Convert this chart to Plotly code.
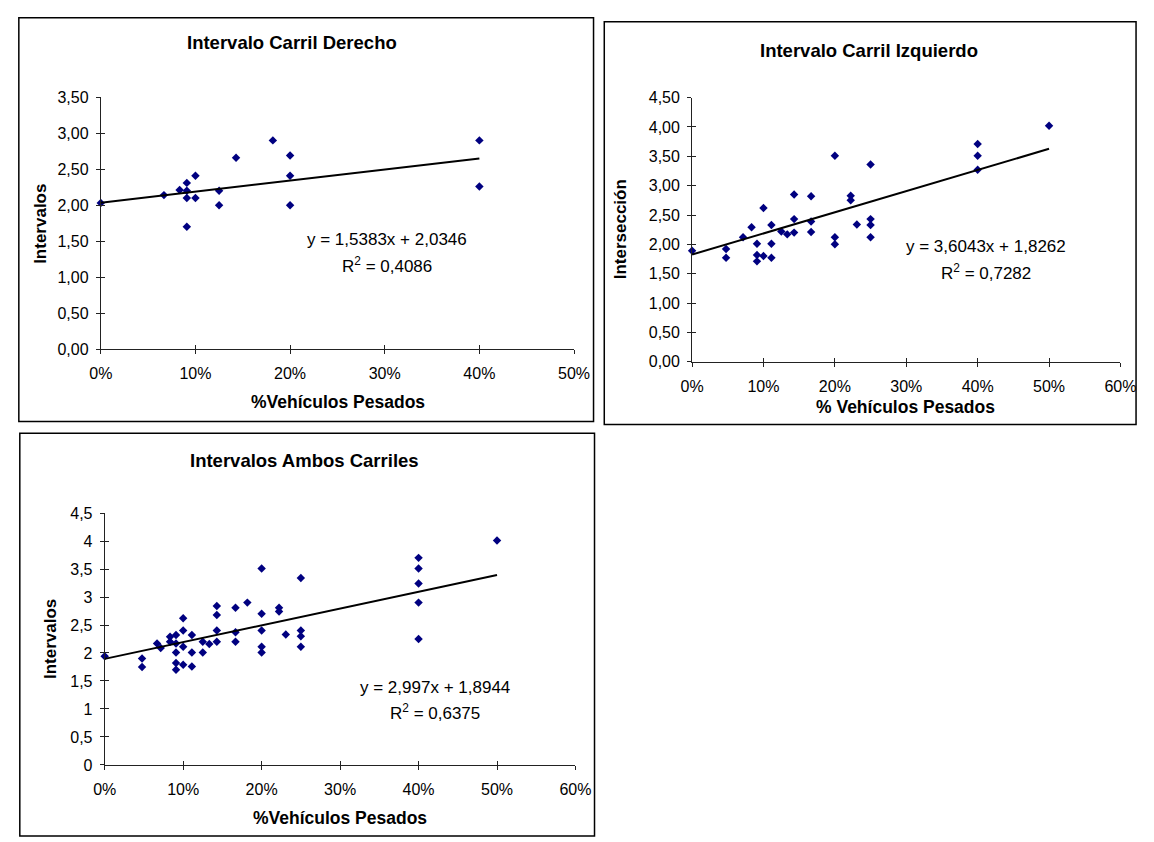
import plotly.graph_objects as go

W, H = 1154, 842

# ---------------- data ----------------
titles = ["Intervalo Carril Derecho", "Intervalo Carril Izquierdo", "Intervalos Ambos Carriles"]
x_titles = ["%Vehículos Pesados", "% Vehículos Pesados", "%Vehículos Pesados"]
y_titles = ["Intervalos", "Intersección", "Intervalos"]

x1 = [0, 0.0667, 0.0833, 0.0909, 0.0909, 0.0909, 0.0909, 0.10, 0.10, 0.125, 0.125,
      0.1429, 0.1818, 0.20, 0.20, 0.20, 0.40, 0.40]
y1 = [2.03, 2.14, 2.21, 2.31, 2.20, 2.10, 1.70, 2.41, 2.10, 2.20, 2.00,
      2.66, 2.90, 2.69, 2.41, 2.00, 2.90, 2.26]

x2 = [0, 0.0476, 0.0476, 0.0714, 0.0833, 0.0909, 0.0909, 0.0909, 0.10, 0.10,
      0.1111, 0.1111, 0.1111, 0.125, 0.1333, 0.1429, 0.1429, 0.1429, 0.1667, 0.1667,
      0.1667, 0.20, 0.20, 0.20, 0.2222, 0.2222, 0.2308, 0.25, 0.25, 0.25, 0.25,
      0.40, 0.40, 0.40, 0.50]
y2 = [1.89, 1.92, 1.77, 2.12, 2.29, 2.01, 1.82, 1.71, 2.62, 1.80,
      2.33, 2.01, 1.77, 2.22, 2.17, 2.85, 2.43, 2.20, 2.82, 2.39,
      2.21, 3.51, 2.12, 2.00, 2.83, 2.75, 2.34, 3.36, 2.43, 2.33, 2.12,
      3.71, 3.51, 3.27, 4.02]

x3 = [0, 0.0476, 0.0476, 0.0667, 0.0714, 0.0833, 0.0833, 0.0909, 0.0909, 0.0909,
      0.0909, 0.0909, 0.10, 0.10, 0.10, 0.10, 0.1111, 0.1111, 0.1111, 0.125, 0.125,
      0.1333, 0.1429, 0.1429, 0.1429, 0.1429, 0.1667, 0.1667, 0.1667, 0.1818,
      0.20, 0.20, 0.20, 0.20, 0.20, 0.2222, 0.2222, 0.2308, 0.25, 0.25, 0.25, 0.25,
      0.40, 0.40, 0.40, 0.40, 0.40, 0.50]
y3 = [1.94, 1.90, 1.75, 2.17, 2.09, 2.29, 2.20, 2.32, 2.17, 2.01,
      1.82, 1.70, 2.62, 2.40, 2.11, 1.79, 2.32, 2.01, 1.76, 2.20, 2.01,
      2.16, 2.84, 2.68, 2.40, 2.20, 2.81, 2.37, 2.20, 2.90,
      3.51, 2.70, 2.40, 2.11, 2.01, 2.81, 2.74, 2.33, 3.34, 2.40, 2.30, 2.11,
      3.70, 3.51, 3.24, 2.90, 2.25, 4.01]

slopes = [1.5383, 3.6043, 2.997]
intercepts = [2.0346, 1.8262, 1.8944]
eq_texts = ["y = 1,5383x + 2,0346", "y = 3,6043x + 1,8262", "y = 2,997x + 1,8944"]
r2_texts = ["R<sup>2</sup> = 0,4086", "R<sup>2</sup> = 0,7282", "R<sup>2</sup> = 0,6375"]

x_ranges = [[0, 0.5], [0, 0.6], [0, 0.6]]
y_ranges = [[0, 3.5], [0, 4.5], [0, 4.5]]
y_formats = [".2f", ".2f", ""]

# ---------------- layout geometry (pixels) ----------------
plot_px = [  # x0, x1, ytop, ybottom
    (91, 576, 91, 348.3),
    (697, 1136, 91.5, 361),
    (95, 577.5, 515.5, 772.5),
]
frames_px = [(7, 10, 596, 422), (607, 14, 1152, 425), (8, 434, 597, 845)]
title_px = [(287, 35), (878, 43), (300, 462)]
eq_px = [(384, 236, 262), (998, 243, 269), (434, 693, 718)]
xt_px = [(334, 402), (916, 407), (336, 827)]
yt_px = [(29, 220), (624, 226), (40, 644)]

FONT = "Liberation Sans, Arial, sans-serif"
MARK = "#000080"


def px(x):
    return x / W


def py(y):
    return 1 - y / H


fig = go.Figure()
xs = [x1, x2, x3]
ys = [y1, y2, y3]
layout = {}
annotations = []
shapes = []

for i in range(3):
    n = i + 1
    xa = "x" if n == 1 else f"x{n}"
    ya = "y" if n == 1 else f"y{n}"
    fig.add_trace(go.Scatter(x=xs[i], y=ys[i], mode="markers", xaxis=xa, yaxis=ya,
                             marker=dict(symbol="diamond", size=6.5, color=MARK),
                             cliponaxis=False, showlegend=False, hoverinfo="x+y"))
    xmax = max(xs[i])
    tx = [0, xmax]
    ty = [intercepts[i] + slopes[i] * v for v in tx]
    fig.add_trace(go.Scatter(x=tx, y=ty, mode="lines", xaxis=xa, yaxis=ya,
                             line=dict(color="black", width=2),
                             cliponaxis=False, showlegend=False, hoverinfo="skip"))
    # overlay axes for the inside half of the crossing tick marks
    xo = f"x{n + 3}"
    yo = f"y{n + 3}"
    fig.add_trace(go.Scatter(x=[None], y=[None], xaxis=xo, yaxis=yo,
                             showlegend=False, hoverinfo="skip"))

    x0p, x1p, ytp, ybp = plot_px[i]
    xdom = [px(x0p), px(x1p)]
    ydom = [py(ybp), py(ytp)]
    common_x = dict(range=x_ranges[i], dtick=0.1, tick0=0, showgrid=False, zeroline=False,
                    linecolor="#222", linewidth=1, tickcolor="#222", ticklen=4, tickwidth=1,
                    fixedrange=True)
    common_y = dict(range=y_ranges[i], dtick=0.5, tick0=0, showgrid=False, zeroline=False,
                    linecolor="#222", linewidth=1, tickcolor="#222", ticklen=4, tickwidth=1,
                    fixedrange=True)
    key = "" if n == 1 else str(n)
    layout["xaxis" + key] = dict(domain=xdom, anchor=ya, showline=True, ticks="outside",
                                 tickformat=".0%", ticklabelstandoff=6,
                                 tickfont=dict(size=16, color="black", family=FONT),
                                 **common_x)
    layout["yaxis" + key] = dict(domain=ydom, anchor=xa, showline=True, ticks="outside",
                                 tickformat=y_formats[i], ticklabelstandoff=4,
                                 tickfont=dict(size=16, color="black", family=FONT),
                                 **common_y)
    layout[f"xaxis{n + 3}"] = dict(domain=xdom, anchor=yo, overlaying=xa, showline=False,
                                   ticks="inside", showticklabels=False, **common_x)
    layout[f"yaxis{n + 3}"] = dict(domain=ydom, anchor=xo, overlaying=ya, showline=False,
                                   ticks="inside", showticklabels=False, **common_y)

    fx0, fy0, fx1, fy1 = frames_px[i]
    shapes.append(dict(type="rect", xref="paper", yref="paper",
                       x0=px(fx0), x1=px(fx1), y0=py(fy1), y1=py(fy0),
                       line=dict(color="black", width=1.5), fillcolor="rgba(0,0,0,0)",
                       layer="below"))
    annotations.append(dict(text=f"<b>{titles[i]}</b>", xref="paper", yref="paper",
                            x=px(title_px[i][0]), y=py(title_px[i][1]),
                            xanchor="center", yanchor="middle", showarrow=False,
                            font=dict(size=18.5, family=FONT, color="black")))
    annotations.append(dict(text=eq_texts[i], xref="paper", yref="paper",
                            x=px(eq_px[i][0]), y=py(eq_px[i][1]),
                            xanchor="center", yanchor="middle", showarrow=False,
                            font=dict(size=17, family=FONT, color="black")))
    annotations.append(dict(text=r2_texts[i], xref="paper", yref="paper",
                            x=px(eq_px[i][0]), y=py(eq_px[i][2]),
                            xanchor="center", yanchor="middle", showarrow=False,
                            font=dict(size=17, family=FONT, color="black")))
    annotations.append(dict(text=f"<b>{x_titles[i]}</b>", xref="paper", yref="paper",
                            x=px(xt_px[i][0]), y=py(xt_px[i][1]),
                            xanchor="center", yanchor="middle", showarrow=False,
                            font=dict(size=17.5, family=FONT, color="black")))
    annotations.append(dict(text=f"<b>{y_titles[i]}</b>", xref="paper", yref="paper",
                            x=px(yt_px[i][0]), y=py(yt_px[i][1]), textangle=-90,
                            xanchor="center", yanchor="middle", showarrow=False,
                            font=dict(size=17, family=FONT, color="black")))

fig.update_layout(
    width=W, height=H,
    margin=dict(l=0, r=0, t=0, b=0),
    paper_bgcolor="white", plot_bgcolor="white",
    separators=",.",
    font=dict(family=FONT, color="black"),
    showlegend=False,
    annotations=annotations,
    shapes=shapes,
    **layout,
)

fig.write_html(
    "out.html",
    config={"displayModeBar": False},
    post_script="document.body.style.margin='0';document.documentElement.style.overflow='hidden';",
)
